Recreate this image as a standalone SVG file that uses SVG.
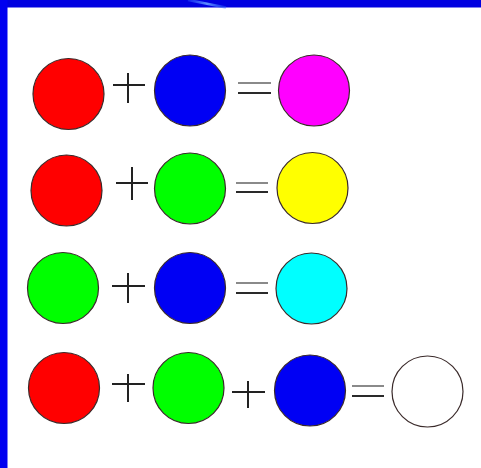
<svg xmlns="http://www.w3.org/2000/svg" width="481" height="468" viewBox="0 0 481 468">
<style>
.c{stroke:#3a2a2a;stroke-width:1.2}
.op{stroke:#222;stroke-width:2;fill:none}
.eqa{stroke:#8a8a8a;stroke-width:2}
.eqb{stroke:#2a2a2a;stroke-width:2}
</style>
<defs>
<linearGradient id="streak" x1="0" y1="0" x2="1" y2="0">
<stop offset="0" stop-color="#2a5cff" stop-opacity="0.4"/>
<stop offset="0.5" stop-color="#5f8fff"/>
<stop offset="1" stop-color="#2a5cff" stop-opacity="0.4"/>
</linearGradient>
</defs>
<rect x="0" y="0" width="481" height="468" fill="#ffffff"/>
<g id="frame">
<rect x="0" y="0" width="481" height="7.5" fill="#0000e0"/>
<rect x="0" y="0" width="7.5" height="468" fill="#0000f0"/>
<line x1="188" y1="0" x2="226" y2="7.5" stroke="url(#streak)" stroke-width="2.5"/>
</g>
<g id="row1">
<circle id="r1-red" class="c" cx="68.5" cy="94" r="35.5" fill="#ff0000"/>
<circle id="r1-blue" class="c" cx="190" cy="90.5" r="35.5" fill="#0000f4"/>
<circle id="r1-magenta" class="c" cx="314" cy="90.5" r="35.5" fill="#ff00ff"/>
</g>
<g id="row2">
<circle id="r2-red" class="c" cx="66.5" cy="190.5" r="35.5" fill="#ff0000"/>
<circle id="r2-green" class="c" cx="190" cy="188.5" r="35.5" fill="#00ff00"/>
<circle id="r2-yellow" class="c" cx="312.5" cy="188" r="35.5" fill="#ffff00"/>
</g>
<g id="row3">
<circle id="r3-green" class="c" cx="63" cy="288" r="35.5" fill="#00ff00"/>
<circle id="r3-blue" class="c" cx="190" cy="288" r="35.5" fill="#0000f4"/>
<circle id="r3-cyan" class="c" cx="311.5" cy="288.5" r="35.5" fill="#00ffff"/>
</g>
<g id="row4">
<circle id="r4-red" class="c" cx="64" cy="388" r="35.5" fill="#ff0000"/>
<circle id="r4-green" class="c" cx="188.5" cy="388" r="35.5" fill="#00ff00"/>
<circle id="r4-blue" class="c" cx="310" cy="390.5" r="35.5" fill="#0000f4"/>
<circle id="r4-white" class="c" cx="427.5" cy="391.5" r="35.5" fill="#ffffff"/>
</g>
<g id="operators">
<path class="op" d="M113 85H145M128 73V103"/>
<line class="eqa" x1="238" y1="83" x2="271" y2="83"/>
<line class="eqb" x1="238" y1="93" x2="271" y2="93"/>
<path class="op" d="M116 183H148M132 167V200"/>
<line class="eqa" x1="236" y1="183" x2="268" y2="183"/>
<line class="eqb" x1="236" y1="192" x2="268" y2="192"/>
<path class="op" d="M112 286H145M128 273V303"/>
<line class="eqa" x1="236" y1="283" x2="268" y2="283"/>
<line class="eqb" x1="236" y1="293" x2="268" y2="293"/>
<path class="op" d="M112 384H145M128 374V402"/>
<path class="op" d="M232 392H265M248 381V408"/>
<line class="eqa" x1="352" y1="386" x2="384" y2="386"/>
<line class="eqb" x1="352" y1="396" x2="384" y2="396"/>
</g>
</svg>
